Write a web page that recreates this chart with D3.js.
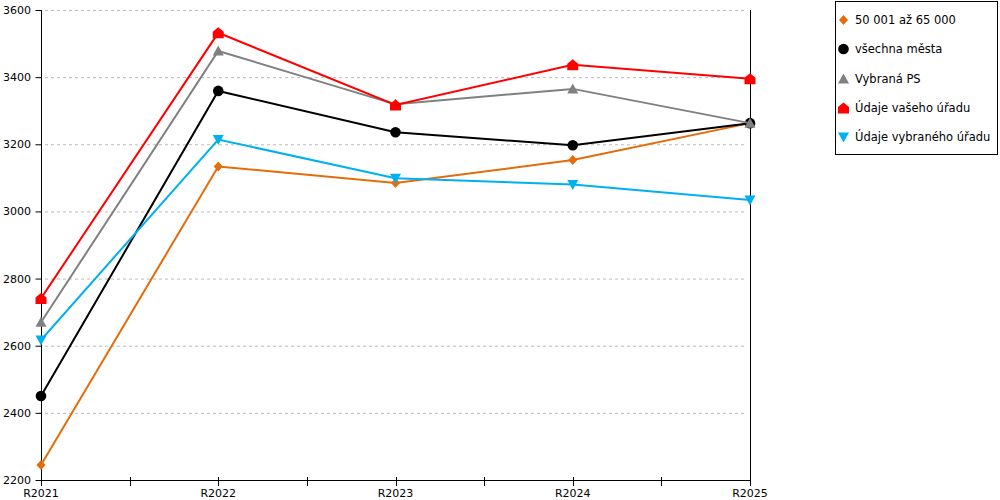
<!DOCTYPE html>
<html>
<head>
<meta charset="utf-8">
<script src="https://cdn.jsdelivr.net/npm/d3@7"></script>
<style>
  html, body { margin: 0; padding: 0; background: #fff; }
  svg text { font-family: "DejaVu Sans", Verdana, sans-serif; font-size: 11px; fill: #000; }
</style>
</head>
<body>
<svg id="chart" width="1000" height="500"></svg>
<script>
const years = ['R2021', 'R2022', 'R2023', 'R2024', 'R2025'];
const yTicks = [2200, 2400, 2600, 2800, 3000, 3200, 3400, 3600];

const seriesNames = ['50 001 až 65 000', 'všechna města', 'Vybraná PS', 'Údaje vašeho úřadu', 'Údaje vybraného úřadu'];
const seriesColors = ['#E46C0A', '#000000', '#808080', '#FF0000', '#00B0F0'];
const seriesMarkers = ['diamond', 'circle', 'triangleUp', 'house', 'triangleDown'];

const orangeValues = [2245, 3134, 3085, 3153, 3263];
const blackValues = [2450, 3359, 3236, 3197, 3263];
const grayValues = [2670, 3478, 3319, 3365, 3263];
const redValues = [2741, 3532, 3317, 3437, 3395];
const blueValues = [2617, 3214, 3099, 3080, 3034];

const allValues = [orangeValues, blackValues, grayValues, redValues, blueValues];

const svg = d3.select('#chart');

const plot = { left: 41, right: 750, top: 10, bottom: 480 };

const x = d3.scalePoint().domain(years).range([plot.left, plot.right]);
const y = d3.scaleLinear().domain([2200, 3600]).range([plot.bottom, plot.top]);

// marker path builder, centered on 0,0
function markerPath(type) {
    switch (type) {
        case 'diamond':
            return 'M0,-5L4.5,0L0,5L-4.5,0Z';
        case 'circle':
            return d3.symbol(d3.symbolCircle, Math.PI * 5.3 * 5.3)();
        case 'triangleUp':
            return 'M0,-5.5L5.5,4.5L-5.5,4.5Z';
        case 'triangleDown':
            return 'M0,5.5L5.5,-4.5L-5.5,-4.5Z';
        case 'house':
            return 'M0,-5.5L5.5,-1L5.5,5.5L-5.5,5.5L-5.5,-1Z';
    }
}

// gridlines
svg.append('g')
    .selectAll('line')
    .data(yTicks.filter(t => t > 2200))
    .join('line')
    .attr('x1', plot.left + 4)
    .attr('x2', plot.right - 3)
    .attr('y1', d => y(d) + 0.5)
    .attr('y2', d => y(d) + 0.5)
    .attr('stroke', '#bbbbbb')
    .attr('stroke-dasharray', '3,3');

// y axis
const yAxis = svg.append('g').attr('transform', `translate(${plot.left + 0.5},0)`)
    .call(d3.axisLeft(y).tickValues(yTicks).tickSize(6).tickPadding(4.5).tickFormat(d3.format('d')));
yAxis.select('.domain').attr('d', `M0,${plot.top}V${plot.bottom}`).attr('stroke', '#000');
yAxis.selectAll('.tick line').attr('stroke', '#000');
yAxis.selectAll('text').style('font-family', '"DejaVu Sans", Verdana, sans-serif').style('font-size', '11px');

// right border
svg.append('line')
    .attr('x1', plot.right + 0.5).attr('x2', plot.right + 0.5)
    .attr('y1', plot.top).attr('y2', plot.bottom)
    .attr('stroke', '#000');

// x axis
const xAxisG = svg.append('g');
xAxisG.append('line')
    .attr('x1', plot.left).attr('x2', plot.right + 1)
    .attr('y1', plot.bottom + 0.5).attr('y2', plot.bottom + 0.5)
    .attr('stroke', '#000');

const step = x.step();
const tickXs = [];
years.forEach((yr, i) => {
    tickXs.push(x(yr));
    if (i < years.length - 1) tickXs.push(x(yr) + step / 2);
});
xAxisG.selectAll('line.tick')
    .data(tickXs)
    .join('line')
    .attr('class', 'tick')
    .attr('x1', d => Math.round(d) + 0.5)
    .attr('x2', d => Math.round(d) + 0.5)
    .attr('y1', plot.bottom - 3)
    .attr('y2', plot.bottom + 6)
    .attr('stroke', '#000');

xAxisG.selectAll('text')
    .data(years)
    .join('text')
    .attr('x', d => x(d))
    .attr('y', 497)
    .attr('text-anchor', 'middle')
    .text(d => d);

// series
const line = d3.line()
    .x((d, i) => x(years[i]))
    .y(d => y(d));

allValues.forEach((vals, s) => {
    const g = svg.append('g');
    g.append('path')
        .datum(vals)
        .attr('d', line)
        .attr('fill', 'none')
        .attr('stroke', seriesColors[s])
        .attr('stroke-width', 2);
    g.selectAll('path.marker')
        .data(vals)
        .join('path')
        .attr('class', 'marker')
        .attr('transform', (d, i) => `translate(${x(years[i])},${y(d)})`)
        .attr('d', markerPath(seriesMarkers[s]))
        .attr('fill', seriesColors[s]);
});

// legend
const legend = svg.append('g');
legend.append('rect')
    .attr('x', 835.5).attr('y', 1.5)
    .attr('width', 162).attr('height', 153)
    .attr('fill', '#fff')
    .attr('stroke', '#000');

const legendYs = [20, 49, 79, 108, 137];
seriesNames.forEach((name, s) => {
    legend.append('path')
        .attr('transform', `translate(843.5,${legendYs[s]})`)
        .attr('d', markerPath(seriesMarkers[s]))
        .attr('fill', seriesColors[s]);
    legend.append('text')
        .attr('x', 855)
        .attr('y', legendYs[s] + 4)
        .style('font-size', '11.5px')
        .text(name);
});
</script>
</body>
</html>
